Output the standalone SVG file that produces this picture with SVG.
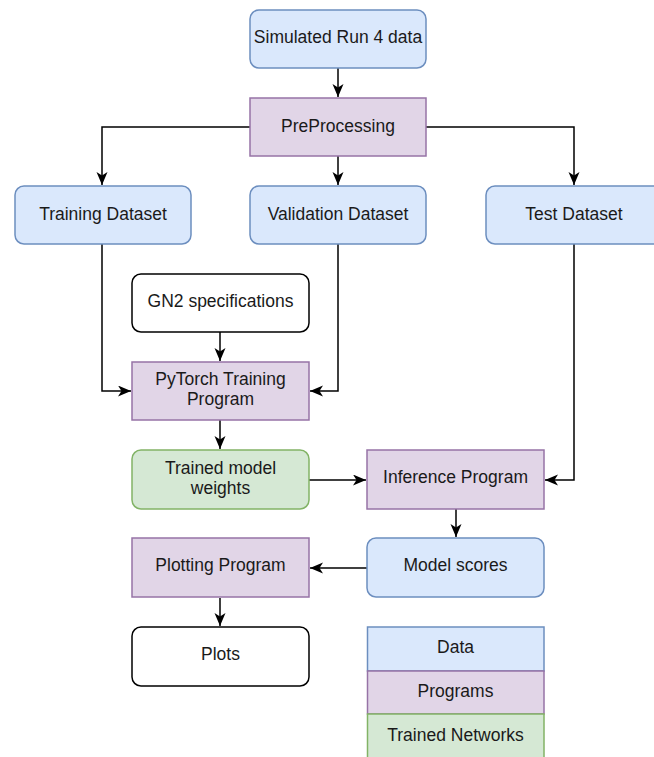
<svg xmlns="http://www.w3.org/2000/svg" width="654" height="757" viewBox="0 0 654 757">
<defs>
<style>
.data{fill:#dae8fc;stroke:#6c8ebf;stroke-width:1.5}
.prog{fill:#e1d5e7;stroke:#9673a6;stroke-width:1.5}
.net{fill:#d5e8d4;stroke:#82b366;stroke-width:1.5}
.plain{fill:#ffffff;stroke:#000000;stroke-width:1.5}
text{font-family:"Liberation Sans",Arial,sans-serif;font-size:17.5px;fill:#1a1a1a;text-anchor:middle}
.edge{fill:none;stroke:#000000;stroke-width:1.5}
</style>
<marker id="arr" markerUnits="userSpaceOnUse" markerWidth="14" markerHeight="12" refX="13" refY="5.5" orient="auto">
<path d="M0,0 L13,5.5 L0,11 L3.5,5.5 Z" fill="#000000"/>
</marker>
</defs>
<rect width="654" height="757" fill="#ffffff"/>
<g id="edges">
<path class="edge" d="M338,68 V97" marker-end="url(#arr)"/>
<path class="edge" d="M250,127 H102 V185" marker-end="url(#arr)"/>
<path class="edge" d="M338,156 V185" marker-end="url(#arr)"/>
<path class="edge" d="M426,127 H574 V185" marker-end="url(#arr)"/>
<path class="edge" d="M220,332 V361" marker-end="url(#arr)"/>
<path class="edge" d="M102,244 V391 H131" marker-end="url(#arr)"/>
<path class="edge" d="M338,244 V391 H310" marker-end="url(#arr)"/>
<path class="edge" d="M220,420 V449" marker-end="url(#arr)"/>
<path class="edge" d="M309,480 H366" marker-end="url(#arr)"/>
<path class="edge" d="M574,244 V480 H545" marker-end="url(#arr)"/>
<path class="edge" d="M456,509 V537" marker-end="url(#arr)"/>
<path class="edge" d="M367,568 H310" marker-end="url(#arr)"/>
<path class="edge" d="M220,598 V626" marker-end="url(#arr)"/>
</g>
<g id="sim">
<rect class="data" x="250" y="10" width="176" height="58" rx="9"/>
<text x="338" y="43">Simulated Run 4 data</text>
</g>
<g id="preprocessing">
<rect class="prog" x="250" y="98" width="176" height="58"/>
<text x="338" y="131.5">PreProcessing</text>
</g>
<g id="training-dataset">
<rect class="data" x="15" y="186" width="176" height="58" rx="9"/>
<text x="103" y="219.5">Training Dataset</text>
</g>
<g id="validation-dataset">
<rect class="data" x="250" y="186" width="176" height="58" rx="9"/>
<text x="338" y="219.5">Validation Dataset</text>
</g>
<g id="test-dataset">
<rect class="data" x="486" y="186" width="176" height="58" rx="9"/>
<text x="574" y="219.5">Test Dataset</text>
</g>
<g id="gn2">
<rect class="plain" x="132" y="274" width="177" height="58" rx="9"/>
<text x="220.5" y="306.5">GN2 specifications</text>
</g>
<g id="pytorch">
<rect class="prog" x="132" y="362" width="177" height="58"/>
<text x="220.5" y="385">PyTorch Training</text>
<text x="220.5" y="405">Program</text>
</g>
<g id="weights">
<rect class="net" x="132" y="450" width="177" height="59" rx="9"/>
<text x="220.5" y="474">Trained model</text>
<text x="220.5" y="494">weights</text>
</g>
<g id="inference">
<rect class="prog" x="367" y="450" width="177" height="59"/>
<text x="455.5" y="482.5">Inference Program</text>
</g>
<g id="scores">
<rect class="data" x="367" y="538" width="177" height="59" rx="9"/>
<text x="455.5" y="570.5">Model scores</text>
</g>
<g id="plotting">
<rect class="prog" x="132" y="538" width="177" height="59"/>
<text x="220.5" y="570.5">Plotting Program</text>
</g>
<g id="plots">
<rect class="plain" x="132" y="627" width="177" height="59" rx="9"/>
<text x="220.5" y="659.5">Plots</text>
</g>
<g id="legend">
<rect class="data" x="367.5" y="627" width="176.5" height="44"/>
<text x="455.5" y="652.5">Data</text>
<rect class="prog" x="367.5" y="671" width="176.5" height="43"/>
<text x="455.5" y="696.5">Programs</text>
<rect class="net" x="367.5" y="714" width="176.5" height="45"/>
<text x="455.5" y="740.5">Trained Networks</text>
</g>
</svg>
